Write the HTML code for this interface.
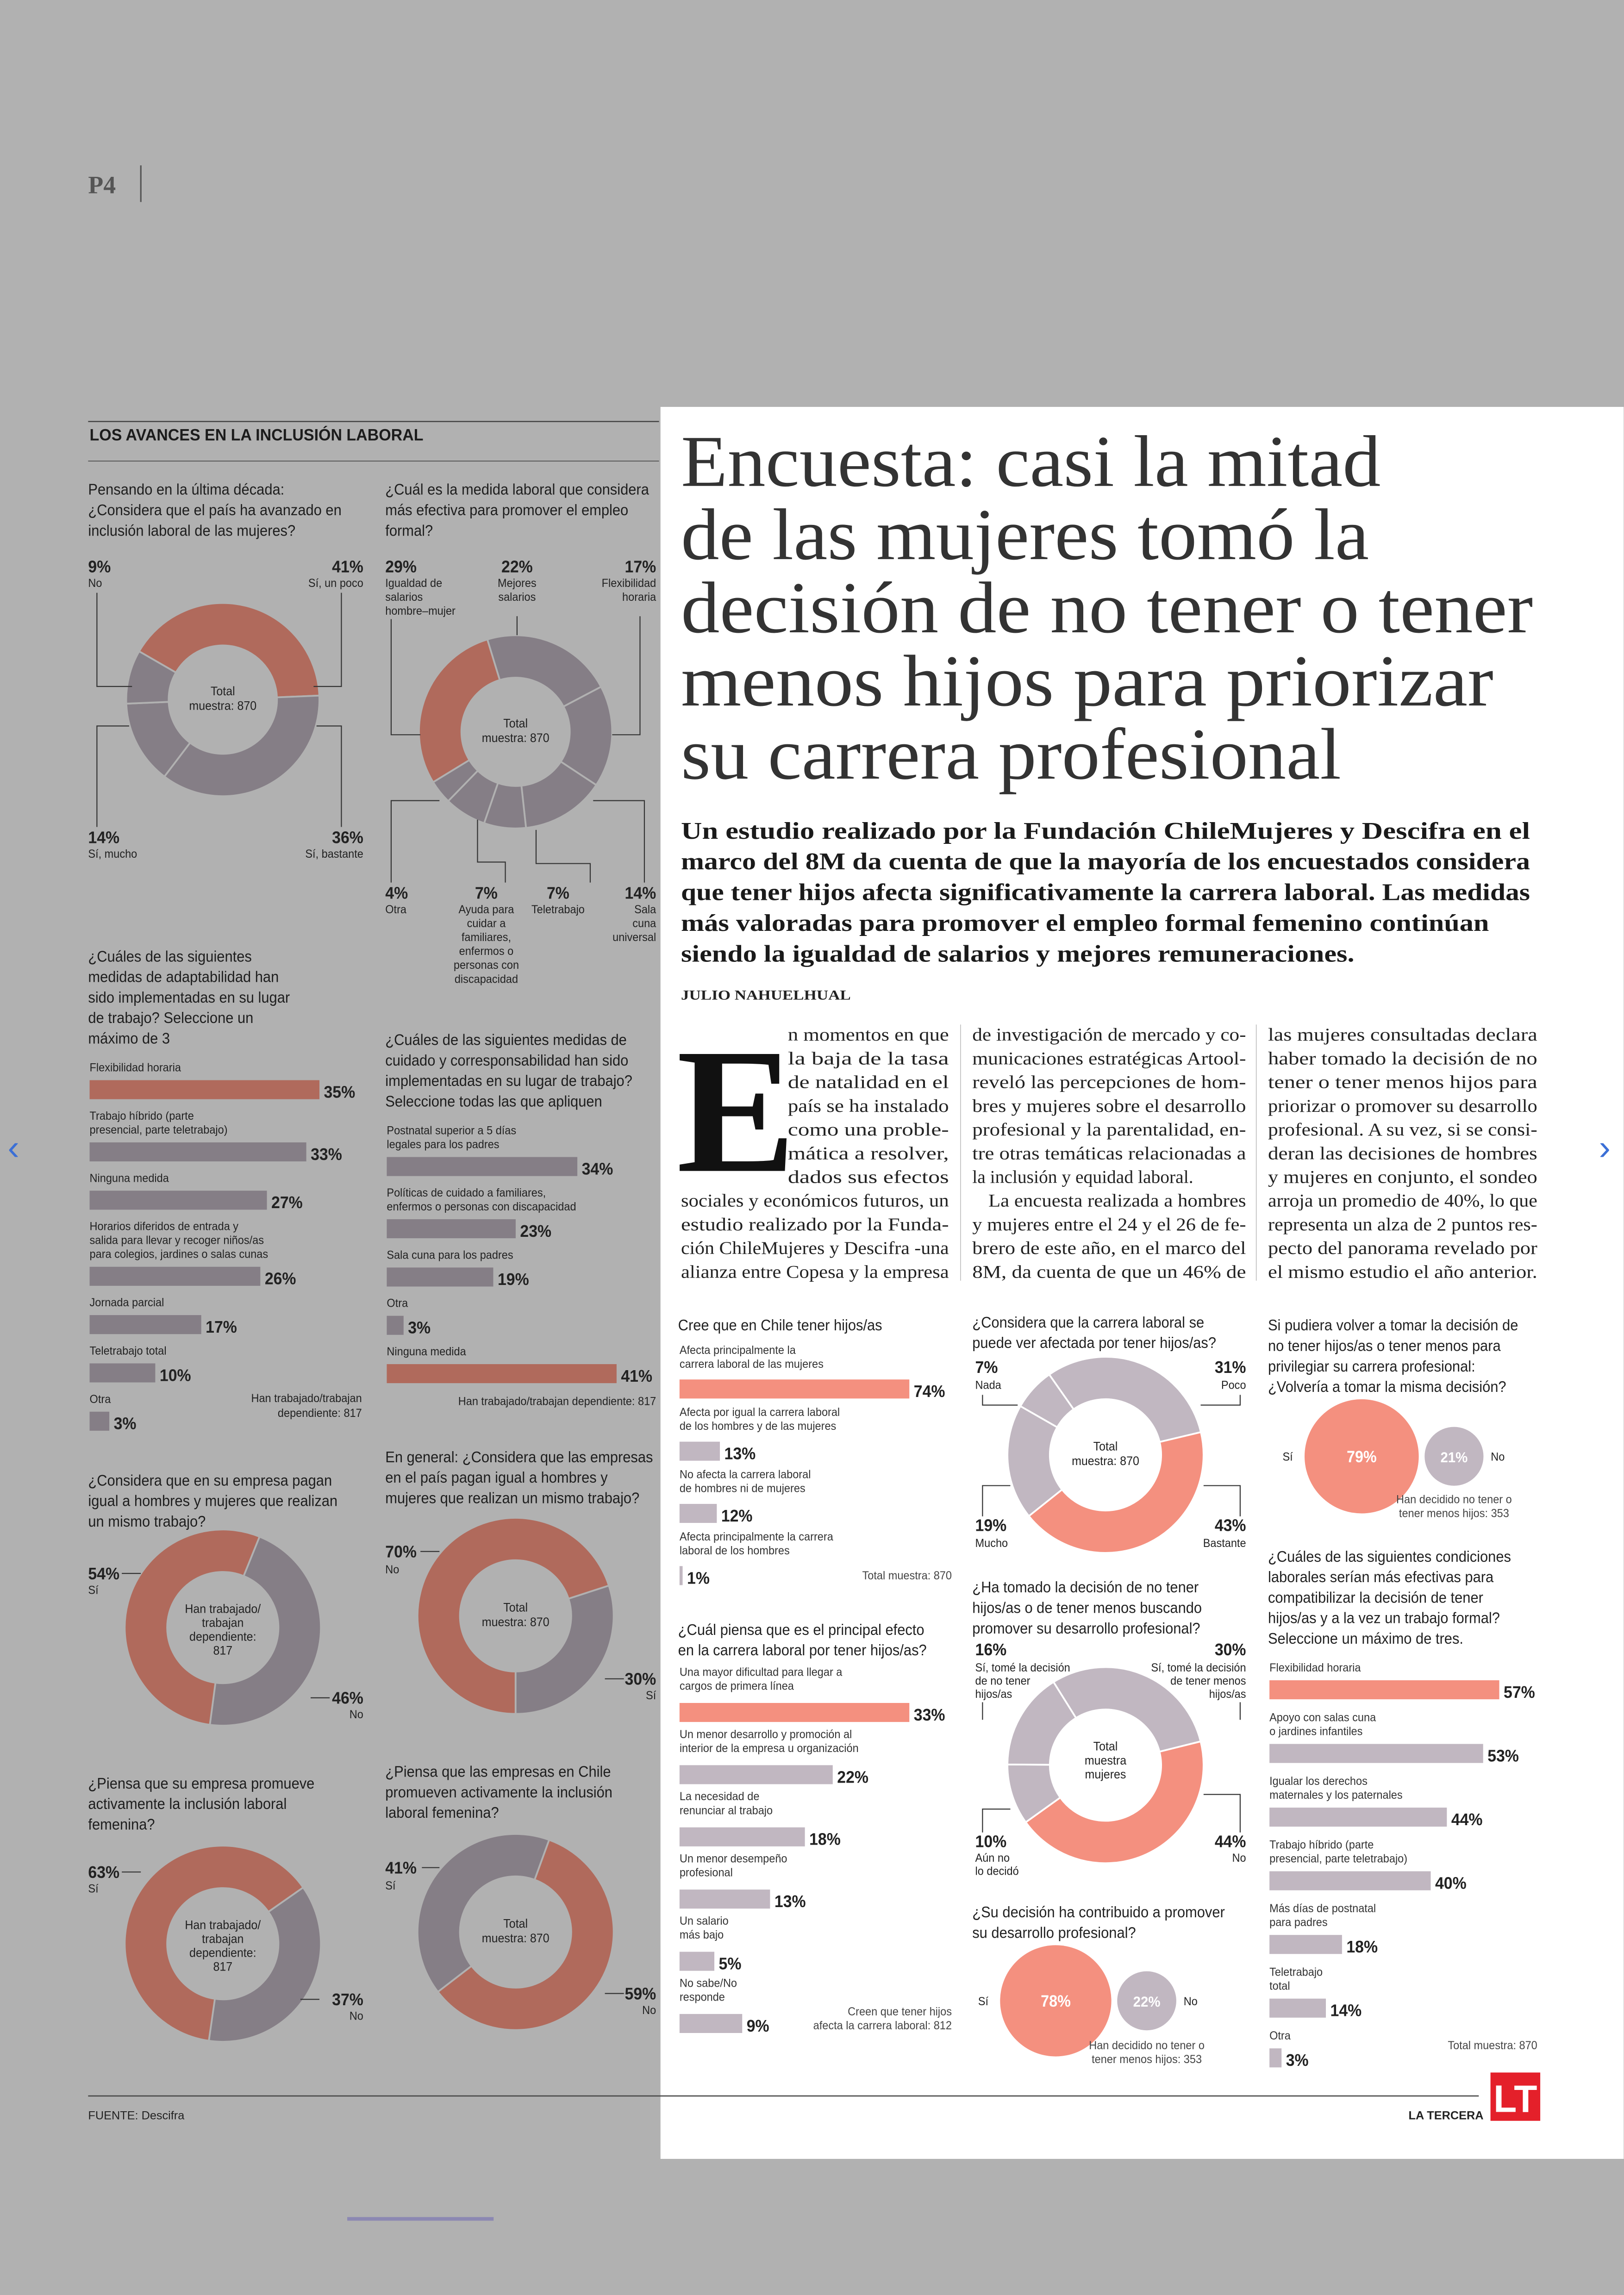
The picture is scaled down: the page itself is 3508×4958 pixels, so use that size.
<!DOCTYPE html>
<html><head><meta charset="utf-8">
<style>
html,body{margin:0;padding:0;background:#b1b1b1;}
svg{display:block;}
text{font-family:"Liberation Sans Narrow","Liberation Sans",sans-serif;}
.serif{font-family:"Liberation Serif",serif;}
</style></head>
<body>
<svg id="s" width="3508" height="4958" viewBox="0 0 1109 1568" xmlns="http://www.w3.org/2000/svg">
<rect x="0" y="0" width="1109" height="1568" fill="#b1b1b1"/>
<text class="serif" x="60" y="132" font-size="17" font-weight="bold" fill="#555">P4</text>
<line x1="96" y1="113" x2="96" y2="138" stroke="#555" stroke-width="1"/>
<rect x="451" y="278" width="658" height="1197" fill="#ffffff"/>
<line x1="60" y1="288" x2="450" y2="288" stroke="#444" stroke-width="0.8"/>
<text x="61" y="301" font-size="11" font-weight="bold" fill="#1c1c1c" textLength="228" lengthAdjust="spacingAndGlyphs">LOS AVANCES EN LA INCLUSIÓN LABORAL</text>
<line x1="60" y1="315" x2="450" y2="315" stroke="#555" stroke-width="0.6"/>
<line x1="60" y1="1432" x2="1010" y2="1432" stroke="#444" stroke-width="0.8"/>
<text x="60" y="1448" font-size="8" fill="#222">FUENTE: Descifra</text>
<text x="962" y="1448" font-size="8" font-weight="bold" fill="#222">LA TERCERA</text>
<rect x="1018" y="1416" width="34" height="33" fill="#e4202a"/>
<text x="1035" y="1443" font-size="26" font-weight="bold" fill="#fff" text-anchor="middle" font-family="Liberation Sans">LT</text>
<line x1="237" y1="1516" x2="337" y2="1516" stroke="#8c88b2" stroke-width="2.5"/>
<text x="5" y="792" font-size="24" fill="#3b6fd6" font-family="Liberation Sans">‹</text>
<text x="1092" y="792" font-size="24" fill="#3b6fd6" font-family="Liberation Sans">›</text>
<line x1="656" y1="700" x2="656" y2="875" stroke="#bbb" stroke-width="0.5"/>
<line x1="858" y1="700" x2="858" y2="875" stroke="#bbb" stroke-width="0.5"/>
<text class="serif" x="462" y="800" font-size="122" font-weight="bold" fill="#111">E</text>
</svg>
<script>
// ---------- chart data ----------
const q1Values=[41,36,14,9];
const q2Values=[22,17,14,7,7,4,29];
const q3Labels=["Flexibilidad horaria","Trabajo híbrido (parte|presencial, parte teletrabajo)","Ninguna medida","Horarios diferidos de entrada y|salida para llevar y recoger niños/as|para colegios, jardines o salas cunas","Jornada parcial","Teletrabajo total","Otra"];
const q3Values=[35,33,27,26,17,10,3];
const q4Labels=["Postnatal superior a 5 días|legales para los padres","Políticas de cuidado a familiares,|enfermos o personas con discapacidad","Sala cuna para los padres","Otra","Ninguna medida"];
const q4Values=[34,23,19,3,41];
const q5Values=[46,54];
const q6Values=[30,70];
const q7Values=[37,63];
const q8Values=[59,41];
const a1Labels=["Afecta principalmente la|carrera laboral de las mujeres","Afecta por igual la carrera laboral|de los hombres y de las mujeres","No afecta la carrera laboral|de hombres ni de mujeres","Afecta principalmente la carrera|laboral de los hombres"];
const a1Values=[74,13,12,1];
const a2Labels=["Una mayor dificultad para llegar a|cargos de primera línea","Un menor desarrollo y promoción al|interior de la empresa u organización","La necesidad de|renunciar al trabajo","Un menor desempeño|profesional","Un salario|más bajo","No sabe/No|responde"];
const a2Values=[33,22,18,13,5,9];
const b1Values=[31,43,19,7];
const b2Values=[30,44,10,16];
const b3Values=[78,22];
const c1Values=[79,21];
const c2Labels=["Flexibilidad horaria","Apoyo con salas cuna|o jardines infantiles","Igualar los derechos|maternales y los paternales","Trabajo híbrido (parte|presencial, parte teletrabajo)","Más días de postnatal|para padres","Teletrabajo|total","Otra"];
const c2Values=[57,53,44,40,18,14,3];

const NS="http://www.w3.org/2000/svg";
const svg=document.getElementById('s');
const DS="#b06a5c", DG="#857e86", BG="#b1b1b1", RS="#f4907f", RL="#c1b7c1";

function mk(tag,attrs,name){
  const e=document.createElementNS(NS,tag);
  for(const k in attrs) e.setAttribute(k,attrs[k]);
  
  
  svg.appendChild(e);
  return e;
}
function T(x,y,s,name,o){
  o=o||{};
  const e=mk('text',{x:x,y:y,'font-size':o.size||8,'font-weight':o.w||'normal','text-anchor':o.a||'start',fill:o.f||'#222'},name);
  if(o.serif) e.setAttribute('class','serif');
  e.textContent=s;
  if(o.len){ e.setAttribute('textLength',o.len); e.setAttribute('lengthAdjust','spacingAndGlyphs'); }
  else if(!o.serif){
    const w=e.getComputedTextLength();
    if(w>0){ e.setAttribute('textLength',(w*0.93).toFixed(2)); e.setAttribute('lengthAdjust','spacingAndGlyphs'); }
  }
  return e;
}
function L(x,y,lines,lh,name,o){ lines.forEach((s,i)=>T(x,y+i*lh,s,name,o)); }
function P(pts,name,col){ mk('polyline',{points:pts,fill:'none',stroke:col||'#333','stroke-width':0.7},name); }

function donut(cx,cy,ro,ri,vals,cols,start,gap,name){
  const tot=vals.reduce((a,b)=>a+b,0);
  let a=start;
  vals.forEach((v,i)=>{
    const a2=a+v/tot*360;
    const r=d=>(d-90)*Math.PI/180;
    const p=(R,d)=>[cx+R*Math.cos(r(d)),cy+R*Math.sin(r(d))];
    const lg=(a2-a)>180?1:0;
    const [x1,y1]=p(ro,a),[x2,y2]=p(ro,a2),[x3,y3]=p(ri,a2),[x4,y4]=p(ri,a);
    mk('path',{d:`M${x1},${y1}A${ro},${ro} 0 ${lg} 1 ${x2},${y2}L${x3},${y3}A${ri},${ri} 0 ${lg} 0 ${x4},${y4}Z`,fill:cols[i],stroke:gap,'stroke-width':1.2},name+'-slice-'+i);
    a=a2;
  });
}
function bars(x,y0,labels,vals,cols,off,gap,lh,name,dark){
  const mx=Math.max(...vals), sc=157/mx;
  let y=y0;
  labels.forEach((lab,i)=>{
    const ls=lab.split('|');
    L(x,y,ls,lh,name+'-label',{size:8,f:dark?'#222':'#333'});
    const top=y+(ls.length-1)*lh+off, w=Math.max(vals[i]*sc,2);
    mk('rect',{x:x,y:top,width:w,height:13,fill:cols[i]},name+'-bar-'+i);
    T(x+w+3,top+12,vals[i]+'%',name+'-value',{size:11.5,w:'bold',f:'#222'});
    y=top+13+gap;
  });
}
function circles(cx,cy,R,vals,cols,name){
  const r1=R, r2=R*Math.sqrt(vals[1]/vals[0]);
  mk('circle',{cx:cx,cy:cy,r:r1,fill:cols[0]},name+'-circle-yes');
  const cx2=cx+r1+r2+4;
  mk('circle',{cx:cx2,cy:cy,r:r2,fill:cols[1]},name+'-circle-no');
  T(cx,cy+4,vals[0]+'%',name+'-yes-value',{size:11,w:'bold',a:'middle',f:'#fff'});
  T(cx2,cy+4,vals[1]+'%',name+'-no-value',{size:10,w:'bold',a:'middle',f:'#fff'});
  T(cx-r1-8,cy+3,'Sí',name+'-yes-label',{size:8,a:'end'});
  T(cx2+r2+5,cy+3,'No',name+'-no-label',{size:8});
  return cx2;
}

// ---------- Left page ----------
const Q={size:10.5,f:'#1e1e1e'};
L(60,338,["Pensando en la última década:","¿Considera que el país ha avanzado en","inclusión laboral de las mujeres?"],14,'q1-title',Q);
donut(152,478,66,37,q1Values,[DS,DG,DG,DG],-60,BG,'q1-donut');
L(152,475,["Total","muestra: 870"],10,'q1-center',{size:8.5,a:'middle'});
T(60,391,q1Values[3]+'%','q1-no-pct',{size:11.5,w:'bold'}); T(60,401,'No','q1-no-label');
T(248,391,q1Values[0]+'%','q1-poco-pct',{size:11.5,w:'bold',a:'end'}); T(248,401,'Sí, un poco','q1-poco-label',{a:'end'});
T(60,576,q1Values[2]+'%','q1-mucho-pct',{size:11.5,w:'bold'}); T(60,586,'Sí, mucho','q1-mucho-label');
T(248,576,q1Values[1]+'%','q1-bastante-pct',{size:11.5,w:'bold',a:'end'}); T(248,586,'Sí, bastante','q1-bastante-label',{a:'end'});
P('66,405 66,469 90,469','q1-leader'); P('233,405 233,469 214,469','q1-leader');
P('66,565 66,496 88,496','q1-leader'); P('233,565 233,496 216,496','q1-leader');

L(263,338,["¿Cuál es la medida laboral que considera","más efectiva para promover el empleo","formal?"],14,'q2-title',Q);
donut(352,500,66,37,q2Values,[DG,DG,DG,DG,DG,DG,DS],-17,BG,'q2-donut');
L(352,497,["Total","muestra: 870"],10,'q2-center',{size:8.5,a:'middle'});
T(263,391,q2Values[6]+'%','q2-pct',{size:11.5,w:'bold'}); L(263,401,["Igualdad de","salarios","hombre–mujer"],9.5,'q2-label');
T(353,391,q2Values[0]+'%','q2-pct',{size:11.5,w:'bold',a:'middle'}); L(353,401,["Mejores","salarios"],9.5,'q2-label',{a:'middle'});
T(448,391,q2Values[1]+'%','q2-pct',{size:11.5,w:'bold',a:'end'}); L(448,401,["Flexibilidad","horaria"],9.5,'q2-label',{a:'end'});
T(263,614,q2Values[5]+'%','q2-pct',{size:11.5,w:'bold'}); T(263,624,'Otra','q2-label');
T(332,614,q2Values[4]+'%','q2-pct',{size:11.5,w:'bold',a:'middle'}); L(332,624,["Ayuda para","cuidar a","familiares,","enfermos o","personas con","discapacidad"],9.5,'q2-label',{a:'middle'});
T(381,614,q2Values[3]+'%','q2-pct',{size:11.5,w:'bold',a:'middle'}); T(381,624,'Teletrabajo','q2-label',{a:'middle'});
T(448,614,q2Values[2]+'%','q2-pct',{size:11.5,w:'bold',a:'end'}); L(448,624,["Sala","cuna","universal"],9.5,'q2-label',{a:'end'});
P('267,423 267,502 287,502','q2-leader'); P('353,421 353,434','q2-leader'); P('437,421 437,502 418,502','q2-leader');
P('267,603 267,547 300,547','q2-leader'); P('345,603 345,589 326,589 326,560','q2-leader');
P('403,603 403,590 366,590 366,567','q2-leader'); P('440,603 440,547 405,547','q2-leader');

L(60,657,["¿Cuáles de las siguientes","medidas de adaptabilidad han","sido implementadas en su lugar","de trabajo? Seleccione un","máximo de 3"],14,'q3-title',Q);
bars(61,732,q3Labels,q3Values,[DS,DG,DG,DG,DG,DG,DG],6,14,9.5,'q3',true);
L(247,958,["Han trabajado/trabajan","dependiente: 817"],10,'q3-note',{a:'end'});

L(263,714,["¿Cuáles de las siguientes medidas de","cuidado y corresponsabilidad han sido","implementadas en su lugar de trabajo?","Seleccione todas las que apliquen"],14,'q4-title',Q);
bars(264,775,q4Labels,q4Values,[DG,DG,DG,DG,DS],6,14,9.5,'q4',true);
T(448,960,'Han trabajado/trabajan dependiente: 817','q4-note',{a:'end'});

L(60,1015,["¿Considera que en su empresa pagan","igual a hombres y mujeres que realizan","un mismo trabajo?"],14,'q5-title',Q);
donut(152,1112,67,38,q5Values,[DG,DS],22,BG,'q5-donut');
L(152,1102,["Han trabajado/","trabajan","dependiente:","817"],9.5,'q5-center',{size:8.5,a:'middle'});
T(60,1079,q5Values[1]+'%','q5-si-pct',{size:11.5,w:'bold'}); T(60,1089,'Sí','q5-si-label'); P('83,1075 96,1075','q5-leader');
T(248,1164,q5Values[0]+'%','q5-no-pct',{size:11.5,w:'bold',a:'end'}); T(248,1174,'No','q5-no-label',{a:'end'}); P('212,1160 225,1160','q5-leader');

L(263,999,["En general: ¿Considera que las empresas","en el país pagan igual a hombres y","mujeres que realizan un mismo trabajo?"],14,'q6-title',Q);
donut(352,1104,67,38,q6Values,[DG,DS],72,BG,'q6-donut');
L(352,1101,["Total","muestra: 870"],10,'q6-center',{size:8.5,a:'middle'});
T(263,1064,q6Values[1]+'%','q6-no-pct',{size:11.5,w:'bold'}); T(263,1075,'No','q6-no-label'); P('287,1060 300,1060','q6-leader');
T(448,1151,q6Values[0]+'%','q6-si-pct',{size:11.5,w:'bold',a:'end'}); T(448,1161,'Sí','q6-si-label',{a:'end'}); P('413,1147 426,1147','q6-leader');

L(60,1222,["¿Piensa que su empresa promueve","activamente la inclusión laboral","femenina?"],14,'q7-title',Q);
donut(152,1328,67,38,q7Values,[DG,DS],55,BG,'q7-donut');
L(152,1318,["Han trabajado/","trabajan","dependiente:","817"],9.5,'q7-center',{size:8.5,a:'middle'});
T(60,1283,q7Values[1]+'%','q7-si-pct',{size:11.5,w:'bold'}); T(60,1293,'Sí','q7-si-label'); P('83,1279 96,1279','q7-leader');
T(248,1370,q7Values[0]+'%','q7-no-pct',{size:11.5,w:'bold',a:'end'}); T(248,1380,'No','q7-no-label',{a:'end'}); P('205,1366 218,1366','q7-leader');

L(263,1214,["¿Piensa que las empresas en Chile","promueven activamente la inclusión","laboral femenina?"],14,'q8-title',Q);
donut(352,1320,67,38,q8Values,[DS,DG],20,BG,'q8-donut');
L(352,1317,["Total","muestra: 870"],10,'q8-center',{size:8.5,a:'middle'});
T(263,1280,q8Values[1]+'%','q8-si-pct',{size:11.5,w:'bold'}); T(263,1291,'Sí','q8-si-label'); P('288,1276 300,1276','q8-leader');
T(448,1366,q8Values[0]+'%','q8-no-pct',{size:11.5,w:'bold',a:'end'}); T(448,1376,'No','q8-no-label',{a:'end'}); P('413,1362 426,1362','q8-leader');

// ---------- Article ----------
const H=["Encuesta: casi la mitad","de las mujeres tomó la","decisión de no tener o tener","menos hijos para priorizar","su carrera profesional"];
const HW=[478,470,582,555,451];
H.forEach((s,i)=>T(465,332+i*50,s,'headline',{size:50,serif:1,f:'#333',len:HW[i]}));
const SUB=["Un estudio realizado por la Fundación ChileMujeres y Descifra en el","marco del 8M da cuenta de que la mayoría de los encuestados considera","que tener hijos afecta significativamente la carrera laboral. Las medidas","más valoradas para promover el empleo formal femenino continúan","siendo la igualdad de salarios y mejores remuneraciones."];
const SW=[580,580,580,552,460];
SUB.forEach((s,i)=>T(465,573+i*21,s,'subheadline',{size:16.5,w:'bold',serif:1,f:'#1a1a1a',len:SW[i]}));
T(465,683,'JULIO NAHUELHUAL','byline',{size:9.5,w:'bold',serif:1,f:'#222',len:116});
const C1=["n momentos en que","la baja de la tasa","de natalidad en el","país se ha instalado","como una proble-","mática a resolver,","dados sus efectos","sociales y económicos futuros, un","estudio realizado por la Funda-","ción ChileMujeres y Descifra -una","alianza entre Copesa y la empresa"];
const C2=["de investigación de mercado y co-","municaciones estratégicas Artool-","reveló las percepciones de hom-","bres y mujeres sobre el desarrollo","profesional y la parentalidad, en-","tre otras temáticas relacionadas a","la inclusión y equidad laboral.","La encuesta realizada a hombres","y mujeres entre el 24 y el 26 de fe-","brero de este año, en el marco del","8M, da cuenta de que un 46% de"];
const C3=["las mujeres consultadas declara","haber tomado la decisión de no","tener o tener menos hijos para","priorizar o promover su desarrollo","profesional. A su vez, si se consi-","deran las decisiones de hombres","y mujeres en conjunto, el sondeo","arroja un promedio de 40%, lo que","representa un alza de 2 puntos res-","pecto del panorama revelado por","el mismo estudio el año anterior."];
C1.forEach((s,i)=>{const x=i<7?538:465;T(x,711+i*16.2,s,'body-text',{size:12.5,serif:1,f:'#222',len:648-x});});
C2.forEach((s,i)=>{const x=i==7?675:664;const o={size:12.5,serif:1,f:'#222'};if(i!=6)o.len=851-x;T(x,711+i*16.2,s,'body-text',o);});
C3.forEach((s,i)=>T(866,711+i*16.2,s,'body-text',{size:12.5,serif:1,f:'#222',len:184}));

// ---------- Right charts ----------
const RQ={size:10.5,f:'#222'};
T(463,909,'Cree que en Chile tener hijos/as','a1-title',RQ);
bars(464,925,a1Labels,a1Values,[RS,RL,RL,RL],8,12,9.5,'a1');
T(650,1079,'Total muestra: 870','a1-note',{a:'end',f:'#444'});

L(463,1117,["¿Cuál piensa que es el principal efecto","en la carrera laboral por tener hijos/as?"],14,'a2-title',RQ);
bars(464,1145,a2Labels,a2Values,[RS,RL,RL,RL,RL,RL],9,11,9.5,'a2');
L(650,1377,["Creen que tener hijos","afecta la carrera laboral: 812"],9.5,'a2-note',{a:'end',f:'#444'});

L(664,907,["¿Considera que la carrera laboral se","puede ver afectada por tener hijos/as?"],14,'b1-title',RQ);
donut(755,994,67,38,b1Values,[RL,RS,RL,RL],-35,'#fff','b1-donut');
L(755,991,["Total","muestra: 870"],10,'b1-center',{size:8.5,a:'middle'});
T(666,938,b1Values[3]+'%','b1-pct',{size:11.5,w:'bold'}); T(666,949,'Nada','b1-label');
T(851,938,b1Values[0]+'%','b1-pct',{size:11.5,w:'bold',a:'end'}); T(851,949,'Poco','b1-label',{a:'end'});
T(666,1046,b1Values[2]+'%','b1-pct',{size:11.5,w:'bold'}); T(666,1057,'Mucho','b1-label');
T(851,1046,b1Values[1]+'%','b1-pct',{size:11.5,w:'bold',a:'end'}); T(851,1057,'Bastante','b1-label',{a:'end'});
P('671,953 671,960 695,960','b1-leader'); P('847,953 847,960 820,960','b1-leader');
P('671,1036 671,1015 690,1015','b1-leader'); P('847,1036 847,1015 822,1015','b1-leader');

L(664,1088,["¿Ha tomado la decisión de no tener","hijos/as o de tener menos buscando","promover su desarrollo profesional?"],14,'b2-title',RQ);
donut(755,1206,67,38,b2Values,[RL,RS,RL,RL],-32,'#fff','b2-donut');
L(755,1196,["Total","muestra","mujeres"],9.5,'b2-center',{size:8.5,a:'middle'});
T(666,1131,b2Values[3]+'%','b2-pct',{size:11.5,w:'bold'}); L(666,1142,["Sí, tomé la decisión","de no tener","hijos/as"],9,'b2-label');
T(851,1131,b2Values[0]+'%','b2-pct',{size:11.5,w:'bold',a:'end'}); L(851,1142,["Sí, tomé la decisión","de tener menos","hijos/as"],9,'b2-label',{a:'end'});
T(666,1262,b2Values[2]+'%','b2-pct',{size:11.5,w:'bold'}); L(666,1272,["Aún no","lo decidó"],9,'b2-label');
T(851,1262,b2Values[1]+'%','b2-pct',{size:11.5,w:'bold',a:'end'}); T(851,1272,'No','b2-label',{a:'end'});
P('671,1163 671,1175','b2-leader'); P('847,1163 847,1175','b2-leader');
P('671,1252 671,1236 690,1236','b2-leader'); P('847,1252 847,1226 822,1226','b2-leader');

L(664,1310,["¿Su decisión ha contribuido a promover","su desarrollo profesional?"],14,'b3-title',RQ);
const b3x=circles(721,1367,38,b3Values,[RS,RL],'b3');
L(b3x,1400,["Han decidido no tener o","tener menos hijos: 353"],9.5,'b3-note',{a:'middle',f:'#444'});

L(866,909,["Si pudiera volver a tomar la decisión de","no tener hijos/as o tener menos para","privilegiar su carrera profesional:","¿Volvería a tomar la misma decisión?"],14,'c1-title',RQ);
const c1x=circles(930,995,39,c1Values,[RS,RL],'c1');
L(c1x,1027,["Han decidido no tener o","tener menos hijos: 353"],9.5,'c1-note',{a:'middle',f:'#444'});

L(866,1067,["¿Cuáles de las siguientes condiciones","laborales serían más efectivas para","compatibilizar la decisión de tener","hijos/as y a la vez un trabajo formal?","Seleccione un máximo de tres."],14,'c2-title',RQ);
bars(867,1142,c2Labels,c2Values,[RS,RL,RL,RL,RL,RL,RL],6,15,9.5,'c2');
T(1050,1400,'Total muestra: 870','c2-note',{a:'end',f:'#444'});
</script>
</body></html>
